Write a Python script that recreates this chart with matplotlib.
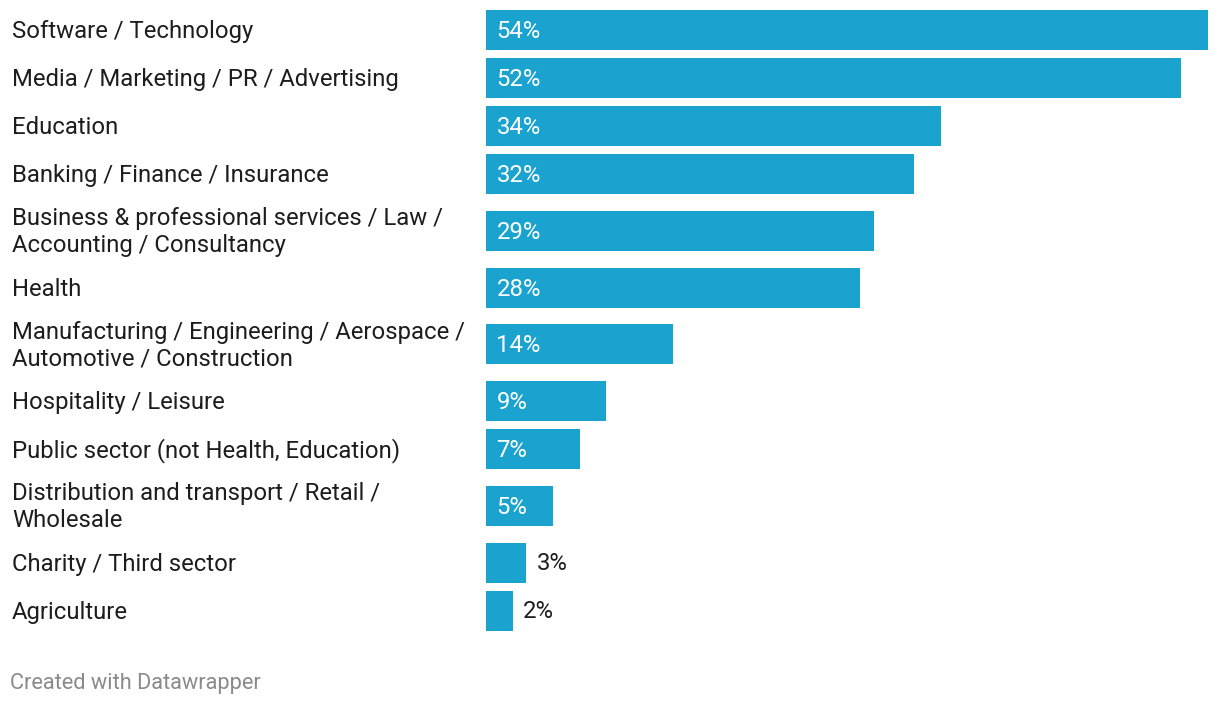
import matplotlib.pyplot as plt

plt.rcParams['font.family'] = ['Roboto', 'DejaVu Sans']

categories = [
    "Software / Technology",
    "Media / Marketing / PR / Advertising",
    "Education",
    "Banking / Finance / Insurance",
    "Business & professional services / Law /\nAccounting / Consultancy",
    "Health",
    "Manufacturing / Engineering / Aerospace /\nAutomotive / Construction",
    "Hospitality / Leisure",
    "Public sector (not Health, Education)",
    "Distribution and transport / Retail /\nWholesale",
    "Charity / Third sector",
    "Agriculture",
]
values = [54, 52, 34, 32, 29, 28, 14, 9, 7, 5, 3, 2]

W, H = 1220, 708
BAR_COLOR = "#1aa3cf"
FS = 17.2

fig = plt.figure(figsize=(W / 100, H / 100), dpi=100)
x0, x1 = 486, 1208
ax = fig.add_axes([x0 / W, 0, (x1 - x0) / W, 1])
ax.set_xlim(0, max(values))
ax.set_ylim(H, 0)
ax.axis("off")

# row layout in pixels: taller rows for wrapped labels
centers = []
top = 6
for lab in categories:
    h = 48 if "\n" not in lab else 65.5
    centers.append(top + h / 2)
    top += h

ax.barh(centers, values, height=40, color=BAR_COLOR, left=0)

for lab, v, c in zip(categories, values, centers):
    fig.text(12 / W, 1 - (c + 1.5) / H, lab, ha="left", va="center",
             fontsize=FS, color="#1d1d1d", linespacing=1.22)
    if v >= 4:
        ax.annotate(f"{v}%", (0, c + 1.5), xytext=(7.5, 0), textcoords="offset points",
                    ha="left", va="center", fontsize=FS, color="white")
    else:
        ax.annotate(f"{v}%", (v, c + 1.5), xytext=(7.5, 0), textcoords="offset points",
                    ha="left", va="center", fontsize=FS, color="#1d1d1d")

fig.text(10 / W, 1 - 684 / H, "Created with Datawrapper", ha="left", va="center",
         fontsize=15.7, color="#8a8a8a")

fig.savefig("out.png", dpi=100, facecolor="white")
